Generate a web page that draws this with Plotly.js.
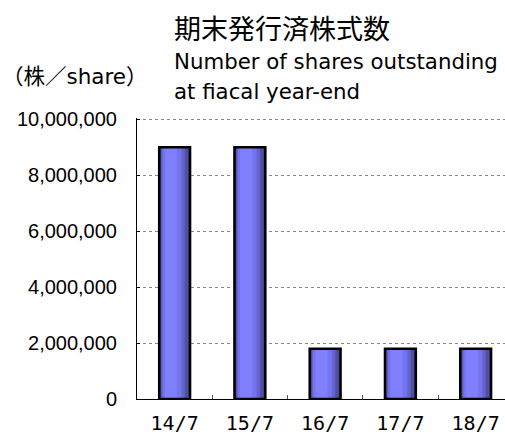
<!DOCTYPE html>
<html>
<head>
<meta charset="utf-8">
<script src="https://cdn.plot.ly/plotly-3.0.1.min.js"></script>
<style>html,body{margin:0;padding:0;background:#fff;}#chart{width:505px;height:437px;}</style>
</head>
<body>
<div id="chart"></div>
<script>
const categories = ["14/7", "15/7", "16/7", "17/7", "18/7"];
const shares = [9000000, 9000000, 1800000, 1800000, 1800000];
const yTickValues = [0, 2000000, 4000000, 6000000, 8000000, 10000000];
const yTickLabels = ["0", "2,000,000", "4,000,000", "6,000,000", "8,000,000", "10,000,000"];

const CJK = "Noto Sans CJK JP, sans-serif";
const LAT = "DejaVu Sans, Noto Sans CJK JP, sans-serif";

// gradient simulation layers: [width, offset, color]
const layers = [
  [0.41, -0.205, "#3a3a8a"],
  [0.37, -0.19, "#50509e"],
  [0.31, -0.175, "#6464cc"],
  [0.25, -0.16, "#7474ee"],
  [0.16, -0.13, "#8080ff"]
];

const traces = layers.map((l, i) => ({
  type: "bar",
  x: categories,
  y: shares,
  width: l[0],
  offset: l[1],
  marker: {color: l[2], line: {width: 0}},
  hoverinfo: "skip",
  showlegend: false
}));
// outline
traces.push({
  type: "bar",
  x: categories,
  y: shares,
  width: 0.41,
  offset: -0.205,
  marker: {color: "rgba(0,0,0,0)", line: {color: "#000", width: 2.5}},
  showlegend: false
});

const layout = {
  width: 505,
  height: 437,
  margin: {l: 137, r: 0, t: 118, b: 38},
  paper_bgcolor: "#fff",
  plot_bgcolor: "#fff",
  barmode: "overlay",
  showlegend: false,
  font: {family: LAT, color: "#000"},
  xaxis: {
    type: "category",
    range: [-0.5, 4.39],
    showgrid: false,
    showline: true,
    linecolor: "#000",
    linewidth: 1,
    ticks: "inside",
    tickson: "boundaries",
    ticklen: 4,
    tickcolor: "#555",
    ticklabelstandoff: 6,
    tickfont: {size: 20, family: "DejaVu Sans Mono, monospace", color: "#000"},
    zeroline: false,
    fixedrange: true
  },
  yaxis: {
    range: [0, 10050000],
    tickvals: yTickValues,
    ticktext: yTickLabels,
    showgrid: true,
    gridcolor: "#888",
    griddash: "dot",
    gridwidth: 1,
    showline: true,
    linecolor: "#000",
    linewidth: 1,
    ticks: "inside",
    ticklen: 3,
    tickcolor: "#000",
    ticklabelstandoff: 15,
    tickfont: {size: 20, family: "Liberation Sans, Arial, sans-serif", color: "#000"},
    zeroline: false,
    fixedrange: true
  },
  annotations: [
    {text: "期末発行済株式数", x: 172, y: 27, size: 27, family: CJK},
    {text: "（株／share）", x: 0, y: 77, size: 21.5, family: LAT},
    {text: "Number of shares outstanding", x: 172, y: 62, size: 21.3, family: LAT},
    {text: "at fiacal year-end", x: 172, y: 91, size: 21.3, family: LAT}
  ]
};

// place annotations in pixel terms
const W = 505, H = 437, L = 137, R = 0, T = 118, B = 38;
const pw = W - L - R, ph = H - T - B;
layout.annotations = layout.annotations.map(a => ({
  text: a.text,
  xref: "paper", yref: "paper",
  x: (a.x - L) / pw, y: (H - B - a.y) / ph,
  xanchor: "left", yanchor: "middle",
  showarrow: false,
  font: {size: a.size, family: a.family, color: "#000"}
}));

Plotly.newPlot("chart", traces, layout, {displayModeBar: false, staticPlot: true});
</script>
</body>
</html>
